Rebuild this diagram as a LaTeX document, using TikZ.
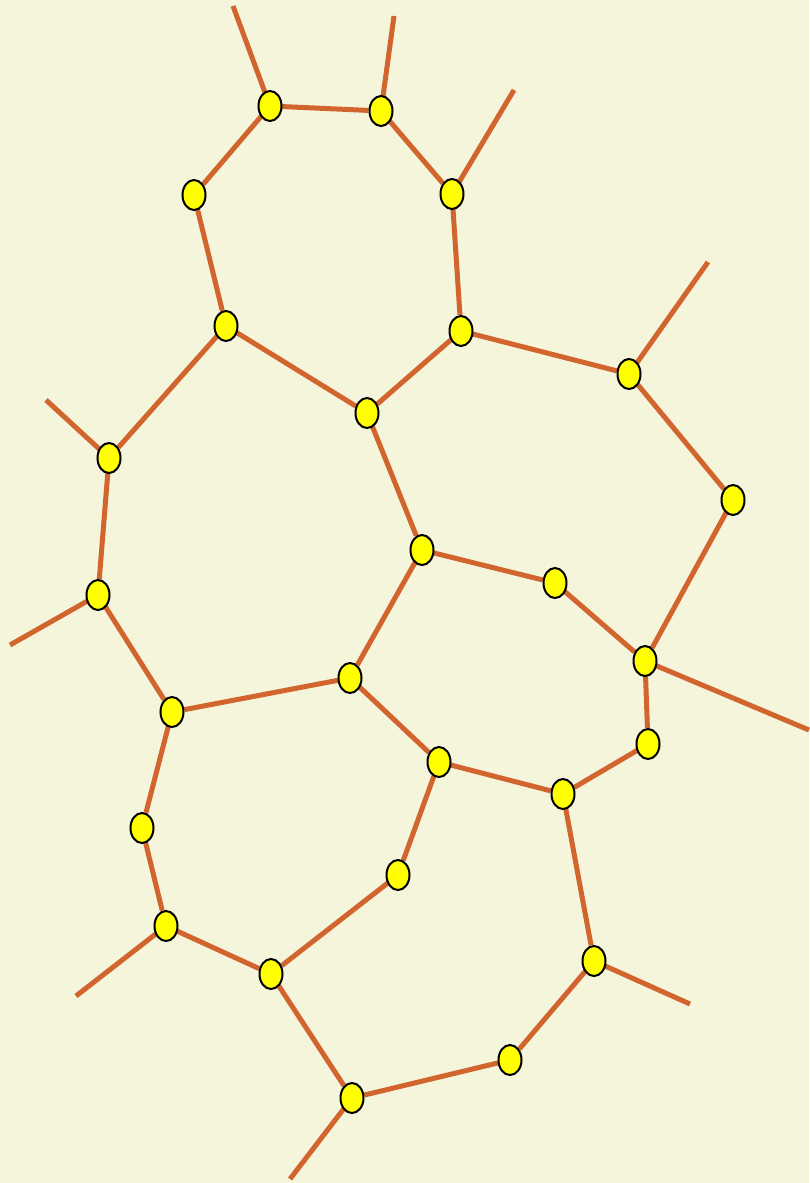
\documentclass[tikz,border=0pt]{standalone}
\usetikzlibrary{shapes.geometric,backgrounds}
\definecolor{bg}{HTML}{F5F5DC}
\definecolor{edge}{HTML}{D2652D}
\definecolor{vfill}{HTML}{FFFF00}
\begin{document}
\begin{tikzpicture}[x=1pt,y=-1pt,
  vert/.style={ellipse,draw=black,line width=2pt,fill=vfill,minimum width=23pt,minimum height=30pt,inner sep=0pt},
  link/.style={draw=edge,line width=5pt}]
\useasboundingbox (0,0) rectangle (809,1183);
\coordinate (e1) at (233,6);
\coordinate (e2) at (394,16);
\coordinate (e4) at (514,90);
\coordinate (e7) at (708,262);
\coordinate (e9) at (46,400);
\coordinate (e13) at (10,645);
\coordinate (e14) at (809,730);
\coordinate (e22) at (76,996);
\coordinate (e23) at (690,1004);
\coordinate (e26) at (290,1179);
\node[vert] (n1) at (270,106) {};
\node[vert] (n2) at (381,111) {};
\node[vert] (n3) at (194,195) {};
\node[vert] (n4) at (452,194) {};
\node[vert] (n5) at (226,326) {};
\node[vert] (n6) at (461,331) {};
\node[vert] (n7) at (629,374) {};
\node[vert] (n8) at (367,413) {};
\node[vert] (n9) at (109,458) {};
\node[vert] (n10) at (733,500) {};
\node[vert] (n11) at (422,550) {};
\node[vert] (n12) at (555,583) {};
\node[vert] (n13) at (98,595) {};
\node[vert] (n14) at (645,661) {};
\node[vert] (n15) at (350,678) {};
\node[vert] (n16) at (172,712) {};
\node[vert] (n17) at (648,744) {};
\node[vert] (n18) at (439,762) {};
\node[vert] (n19) at (563,794) {};
\node[vert] (n20) at (142,828) {};
\node[vert] (n21) at (398,875) {};
\node[vert] (n22) at (166,926) {};
\node[vert] (n23) at (594,961) {};
\node[vert] (n24) at (271,974) {};
\node[vert] (n25) at (510,1060) {};
\node[vert] (n26) at (352,1098) {};
\begin{scope}[on background layer]
\fill[bg] (0,0) rectangle (809,1183);
\foreach \a/\b in {n1/e1,n2/e2,n4/e4,n7/e7,n9/e9,n13/e13,n14/e14,n22/e22,n23/e23,n26/e26,
  n1/n2,n1/n3,n2/n4,n3/n5,n4/n6,n5/n8,n5/n9,n6/n8,n6/n7,n7/n10,n8/n11,n9/n13,n10/n14,
  n11/n12,n11/n15,n12/n14,n13/n16,n14/n17,n15/n16,n15/n18,n16/n20,n17/n19,n18/n19,
  n18/n21,n20/n22,n21/n24,n22/n24,n19/n23,n23/n25,n24/n26,n25/n26}
  \draw[link] (\a.center) -- (\b);
\end{scope}
\end{tikzpicture}
\end{document}
